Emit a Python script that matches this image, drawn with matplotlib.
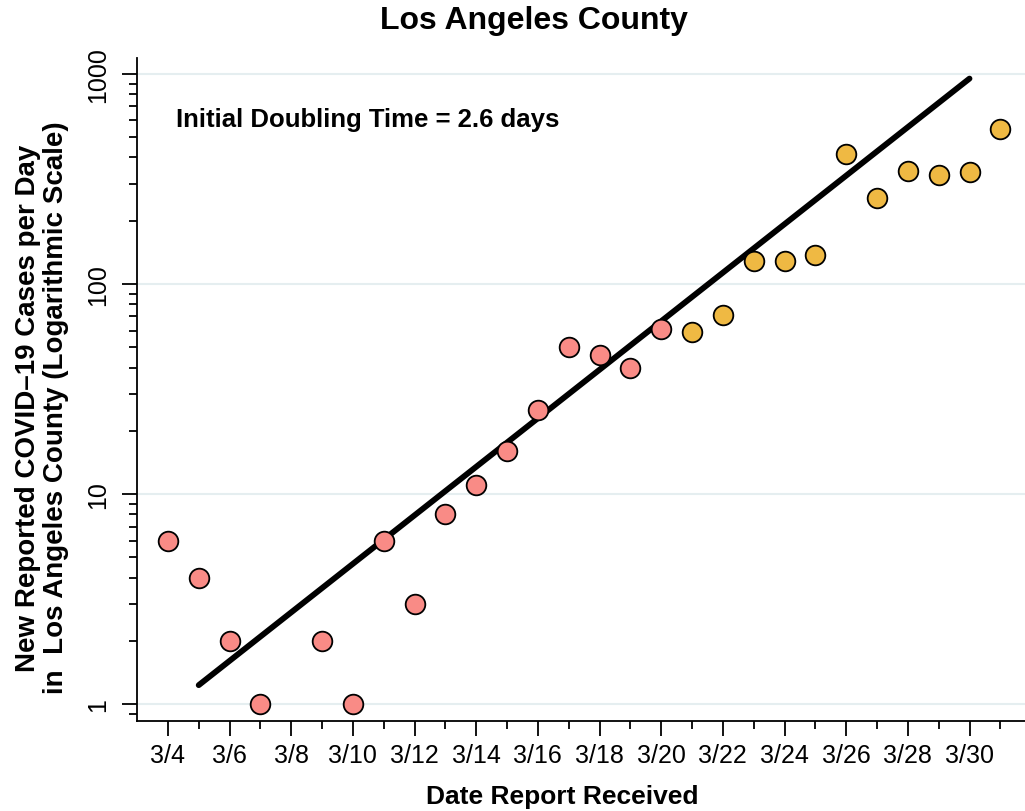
import numpy as np
import matplotlib.pyplot as plt
from matplotlib.ticker import LogLocator, NullFormatter, FixedLocator

plt.rcParams['font.family'] = ['Liberation Sans', 'DejaVu Sans']

# day of March, new cases reported that day (3/8 had none)
early_days = [4, 5, 6, 7, 9, 10, 11, 12, 13, 14, 15, 16, 17, 18, 19, 20]
early_cases = [6, 4, 2, 1, 2, 1, 6, 3, 8, 11, 16, 25, 50, 46, 40, 61]
late_days = [21, 22, 23, 24, 25, 26, 27, 28, 29, 30, 31]
late_cases = [59, 71, 128, 128, 137, 416, 257, 345, 330, 341, 548]

# fitted exponential line (doubling time 2.6 days), end points
fit_days = [5, 30]
fit_cases = [1.23, 950]

tick_days = list(range(4, 31, 2))
tick_labels = ['3/%d' % d for d in tick_days]

fig = plt.figure(figsize=(10.25, 8.12), dpi=100)
ax = fig.add_axes([0.1337, 0.1108, 0.8663, 0.8165])

ax.set_yscale('log')
ax.set_xlim(3.0, 31.8)
ax.set_ylim(0.83, 1190)

ax.grid(axis='y', which='major', color='#e5eef0', linewidth=1.5, zorder=0)

# straight line in log space between the two fit end points
ax.plot(fit_days, fit_cases, color='black', linewidth=4.2,
        solid_capstyle='round', zorder=2)

ax.scatter(early_days, early_cases, s=200, color='#f98b86', edgecolor='black',
           linewidth=1.3, zorder=3)
ax.scatter(late_days, late_cases, s=200, color='#efb943', edgecolor='black',
           linewidth=1.3, zorder=3)

ax.text(4.25, 610, 'Initial Doubling Time = 2.6 days', fontsize=18.5,
        fontweight='bold', va='center', ha='left')

fig.text(0.521, 1 - 21 / 812, 'Los Angeles County', fontsize=23,
         fontweight='bold', ha='center', va='center')
fig.text(562 / 1025, 1 - 797 / 812, 'Date Report Received', fontsize=19,
         fontweight='bold', ha='center', va='center')
fig.text(42 / 1025, 1 - 408 / 812,
         'New Reported COVID\u201319 Cases per Day\nin  Los Angeles County (Logarithmic Scale)',
         fontsize=20, fontweight='bold', ha='center', va='center', rotation=90,
         multialignment='center', linespacing=1.1)

ax.xaxis.set_major_locator(FixedLocator(tick_days))
ax.set_xticklabels(tick_labels)
ax.xaxis.set_minor_locator(FixedLocator(range(5, 32, 2)))
ax.yaxis.set_major_locator(FixedLocator([1, 10, 100, 1000]))
ax.set_yticklabels(['1', '10', '100', '1000'])
ax.yaxis.set_minor_locator(LogLocator(base=10, subs=np.arange(2, 10)))
ax.yaxis.set_minor_formatter(NullFormatter())

ax.tick_params(axis='both', which='major', labelsize=18, length=10.5, width=1.3,
               direction='out')
ax.tick_params(axis='x', which='major', pad=5)
ax.tick_params(axis='y', which='major', pad=9, labelrotation=90)
for lab in ax.get_yticklabels():
    lab.set_va('center')
ax.tick_params(axis='both', which='minor', length=6, width=1.3, direction='out')

for side in ['top', 'right']:
    ax.spines[side].set_visible(False)
ax.spines['left'].set_linewidth(1.3)
ax.spines['bottom'].set_linewidth(1.3)

fig.savefig('out.png', dpi=100)
